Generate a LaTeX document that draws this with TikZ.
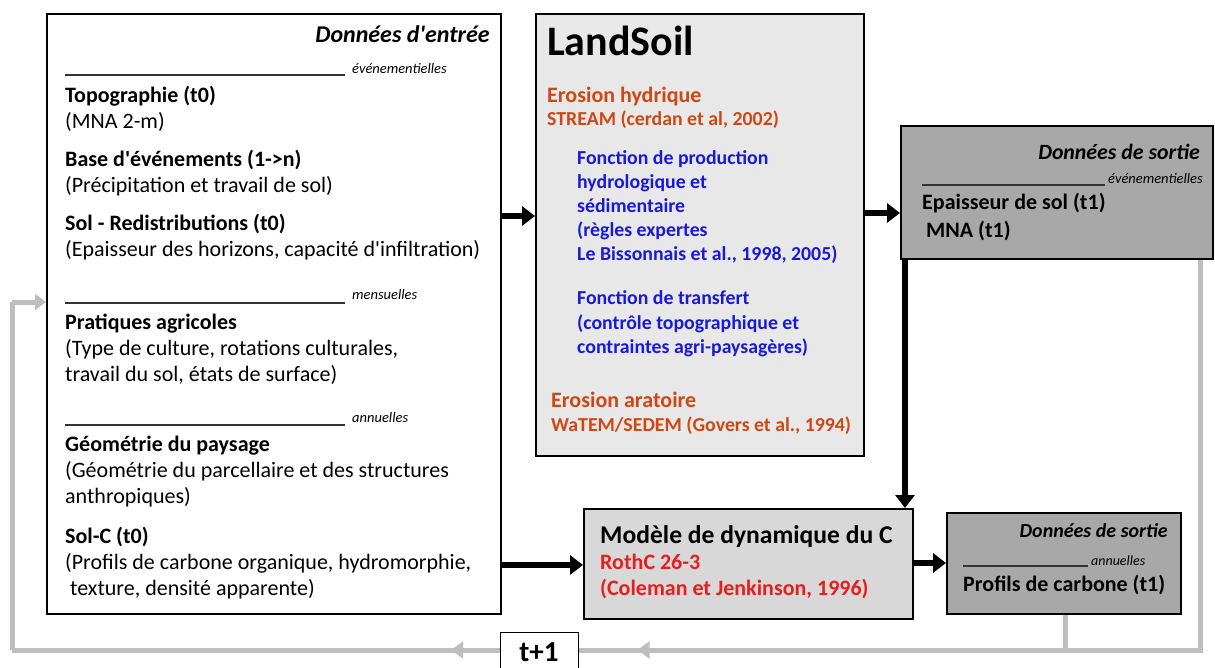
\documentclass[tikz,border=0pt]{standalone}
\usepackage{fontspec}
\setmainfont{Carlito}
\usetikzlibrary{arrows.meta,decorations.markings,calc}
\definecolor{orng}{RGB}{205,72,20}
\definecolor{blu}{RGB}{25,25,215}
\definecolor{redc}{RGB}{230,30,30}
\definecolor{lsfill}{RGB}{232,232,232}
\definecolor{cfill}{RGB}{216,216,216}
\definecolor{ofill}{RGB}{168,168,168}
\definecolor{loop}{RGB}{190,190,190}
\newcommand{\q}{\textquotesingle}
\tikzset{
  box/.style={draw=black,line width=2pt,anchor=north west,inner sep=0pt},
  txt/.style={anchor=base west,inner sep=0pt,font=\fontsize{22}{26}\selectfont},
  btxt/.style={txt,font=\fontsize{22}{26}\selectfont\bfseries},
  ttl/.style={anchor=base east,inner sep=0pt,font=\fontsize{24}{28}\selectfont\bfseries\itshape},
  freq/.style={anchor=base west,inner sep=0pt,font=\fontsize{14.5}{16}\selectfont\itshape},
  rule/.style={line width=1.3pt,draw=black!80},
  arr/.style={line width=5.5pt,-{Triangle[length=13pt,width=19pt]}},
  gl/.style={line width=5pt,draw=loop},
  garr/.style={gl,-{Triangle[length=11pt,width=16pt]}},
  midl/.style={postaction={decorate},decoration={markings,mark=at position #1 with {\arrow{Triangle[length=12pt,width=17pt,color=loop]}}}},
  ls1/.style={anchor=base west,inner sep=0pt,font=\fontsize{22}{26}\selectfont\bfseries,text=orng},
  ls2/.style={anchor=base west,inner sep=0pt,font=\fontsize{19.8}{23}\selectfont\bfseries,text=orng},
  bl/.style={anchor=base west,inner sep=0pt,font=\fontsize{19.8}{23}\selectfont\bfseries,text=blu},
}
\begin{document}
\begin{tikzpicture}[x=1pt,y=-1pt]
\useasboundingbox (0,0) rectangle (1215,668);
\coordinate (g1) at (1200,650);
\coordinate (g0) at (12,650);
\coordinate (g2) at (12,302);
\coordinate (g3) at (1065,650);
% boxes
\node[box,fill=white,minimum width=454pt,minimum height=600pt] (in) at (46,13) {};
\node[box,fill=lsfill,minimum width=328pt,minimum height=442pt] (ls) at (535,13) {};
\node[box,fill=ofill,minimum width=312pt,minimum height=133pt] (o1) at (900,125) {};
\node[box,fill=cfill,minimum width=329pt,minimum height=110pt] (cm) at (583,508) {};
\node[box,fill=ofill,minimum width=234pt,minimum height=101pt] (o2) at (946,512) {};
\node[box,line width=1.3pt,fill=white,minimum width=78pt,minimum height=45pt] (tp) at (500,632) {};
% gray loop lines
\draw[gl] (o1.south -| g1) -- (g1) -- (g3);
\draw[gl] (o2.south -| g3) -- (g3);
\draw[gl,midl=0.88] (g3) -- (tp.east |- g1);
\draw[gl,midl=0.1] (tp.west |- g1) -- (g0);
\draw[gl] (g0) -- (g2);
\draw[garr] (g2) -- (in.west |- g2);
\node[anchor=base,inner sep=0pt,font=\fontsize{29}{32}\selectfont\bfseries] (tpl) at (539,661) {t+1};
% black arrows
\draw[arr] (in.east |- 0,216) -- (ls.west |- 0,216);
\draw[arr] (ls.east |- 0,213) -- (o1.west |- 0,213);
\draw[arr] (o1.south -| 905,0) -- (cm.north -| 905,0);
\draw[arr] (in.east |- 0,565) -- (cm.west |- 0,565);
\draw[arr] (cm.east |- 0,563) -- (o2.west |- 0,563);
% input box text
\node[ttl] (tin) at (490,43) {Données d\q entrée};
\draw[rule] (65,75) -- (345,75);
\node[freq] (f1) at (352,74) {événementielles};
\node[btxt] (t1) at (65,103) {Topographie (t0)};
\node[txt] (t2) at (65,129) {(MNA 2-m)};
\node[btxt] (t3) at (65,167) {Base d\q événements (1->n)};
\node[txt] (t4) at (65,193) {(Précipitation et travail de sol)};
\node[btxt] (t5) at (65,231) {Sol - Redistributions (t0)};
\node[txt] (t6) at (65,257) {(Epaisseur des horizons, capacité d\q infiltration)};
\draw[rule] (65,303) -- (345,303);
\node[freq] (f2) at (352,300) {mensuelles};
\node[btxt] (t7) at (65,329) {Pratiques agricoles};
\node[txt] (t8) at (65,355) {(Type de culture, rotations culturales,};
\node[txt] (t9) at (65,381) {travail du sol, états de surface)};
\draw[rule] (65,425) -- (345,425);
\node[freq] (f3) at (352,422) {annuelles};
\node[btxt] (t10) at (65,451) {Géométrie du paysage};
\node[txt] (t11) at (65,477) {(Géométrie du parcellaire et des structures};
\node[txt] (t12) at (65,503) {anthropiques)};
\node[btxt] (t13) at (65,543) {Sol-C (t0)};
\node[txt] (t14) at (65,569) {(Profils de carbone organique, hydromorphie,};
\node[txt] (t15) at (70,595) {texture, densité apparente)};
% LandSoil text
\node[anchor=base west,inner sep=0pt,font=\fontsize{42}{46}\selectfont\bfseries] (lst) at (547,56) {LandSoil};
\node[ls1] (e1) at (547,103) {Erosion hydrique};
\node[ls2] (e2) at (547,126) {STREAM (cerdan et al, 2002)};
\node[bl] (b1) at (577,165) {Fonction de production};
\node[bl] (b2) at (577,189) {hydrologique et};
\node[bl] (b3) at (577,213) {sédimentaire};
\node[bl] (b4) at (577,237) {(règles expertes};
\node[bl] (b5) at (577,261) {Le Bissonnais et al., 1998, 2005)};
\node[bl] (b6) at (577,305) {Fonction de transfert};
\node[bl] (b7) at (577,329) {(contrôle topographique et};
\node[bl] (b8) at (577,353) {contraintes agri-paysagères)};
\node[ls1] (e3) at (551,407) {Erosion aratoire};
\node[ls2] (e4) at (551,431) {WaTEM/SEDEM (Govers et al., 1994)};
% output 1
\node[ttl,font=\fontsize{21.8}{25}\selectfont\bfseries\itshape] (to1) at (1200,160) {Données de sortie};
\draw[rule] (922,185) -- (1105,185);
\node[freq] (f4) at (1108,184) {événementielles};
\node[btxt] (o1a) at (922,210) {Epaisseur de sol (t1)};
\node[btxt] (o1b) at (926,238) {MNA (t1)};
% C model
\node[anchor=base west,inner sep=0pt,font=\fontsize{25.6}{29}\selectfont\bfseries] (cm1) at (600,543) {Modèle de dynamique du C};
\node[anchor=base west,inner sep=0pt,font=\fontsize{22}{26}\selectfont\bfseries,text=redc] (cm2) at (600,569) {RothC 26-3};
\node[anchor=base west,inner sep=0pt,font=\fontsize{22}{26}\selectfont\bfseries,text=redc] (cm3) at (600,595) {(Coleman et Jenkinson, 1996)};
% output 2
\node[ttl,font=\fontsize{20}{23}\selectfont\bfseries\itshape] (to2) at (1168,537) {Données de sortie};
\draw[rule] (963,566) -- (1088,566);
\node[freq,font=\fontsize{14}{16}\selectfont\itshape] (f5) at (1091,565) {annuelles};
\node[btxt] (o2a) at (963,591) {Profils de carbone (t1)};
\end{tikzpicture}
\end{document}
